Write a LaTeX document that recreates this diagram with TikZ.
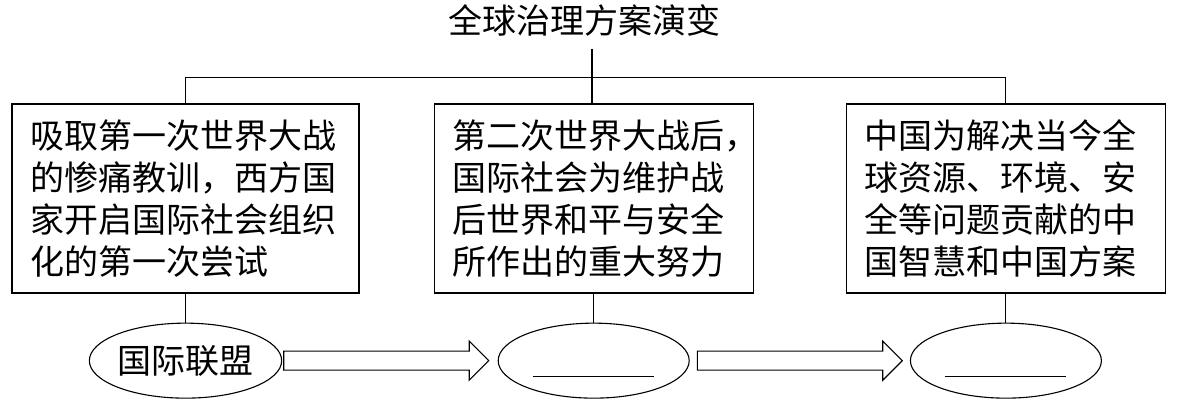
\documentclass[tikz,border=0pt]{standalone}
\usepackage{fontspec}
\newfontfamily\cjk{Noto Sans CJK SC}
\usetikzlibrary{positioning,shapes.geometric,shapes.arrows}
\newcommand{\blankline}{\rule{0pt}{16pt}\rule[-16pt]{121pt}{0.8pt}}

\begin{document}
\begin{tikzpicture}[
 x=1pt,y=1pt,
 node distance=29pt,
 box/.style={draw,line width=1.2pt,align=left,inner xsep=18pt,minimum height=189pt,font=\cjk\fontsize{34}{42}\selectfont},
 org/.style={draw,ellipse,line width=1.1pt,inner sep=0pt,minimum width=191pt,minimum height=75pt,font=\cjk\fontsize{34}{40}\selectfont},
 hollow/.style={draw,single arrow,line width=1.1pt,inner xsep=0pt,inner ysep=9pt,minimum height=205pt,single arrow head extend=10pt},
 link/.style={line width=1.1pt}]
\useasboundingbox (0,0) rectangle (1177,404);
\node[font=\cjk\fontsize{34}{40}\selectfont] (title) at (584,384) {全球治理方案演变};
\node[box,text width=311pt] (war1) at (185.5,205.5) {吸取第一次世界大战\\的惨痛教训，西方国\\家开启国际社会组织\\化的第一次尝试};
\node[box,text width=283pt,right=74pt of war1] (war2) {第二次世界大战后，\\国际社会为维护战\\后世界和平与安全\\所作出的重大努力};
\node[box,text width=283pt,right=92pt of war2] (china) {中国为解决当今全\\球资源、环境、安\\全等问题贡献的中\\国智慧和中国方案};
\node[org,below=of war1] (league) {国际联盟};
\node[org,below=of war2] (un) {\blankline};
\node[org,below=of china] (plan) {\blankline};
\node[hollow,right=1pt of league] (step1) {};
\node[hollow,right=7pt of un] (step2) {};
\coordinate (stem) at (592,355);
\draw[link] (stem) -- (stem |- war2.north);
\draw[link] (war1.north) -- ++(0,26) -| (china.north);
\draw[link] (war1) -- (league);
\draw[link] (war2) -- (un);
\draw[link] (china) -- (plan);
\end{tikzpicture}
\end{document}
